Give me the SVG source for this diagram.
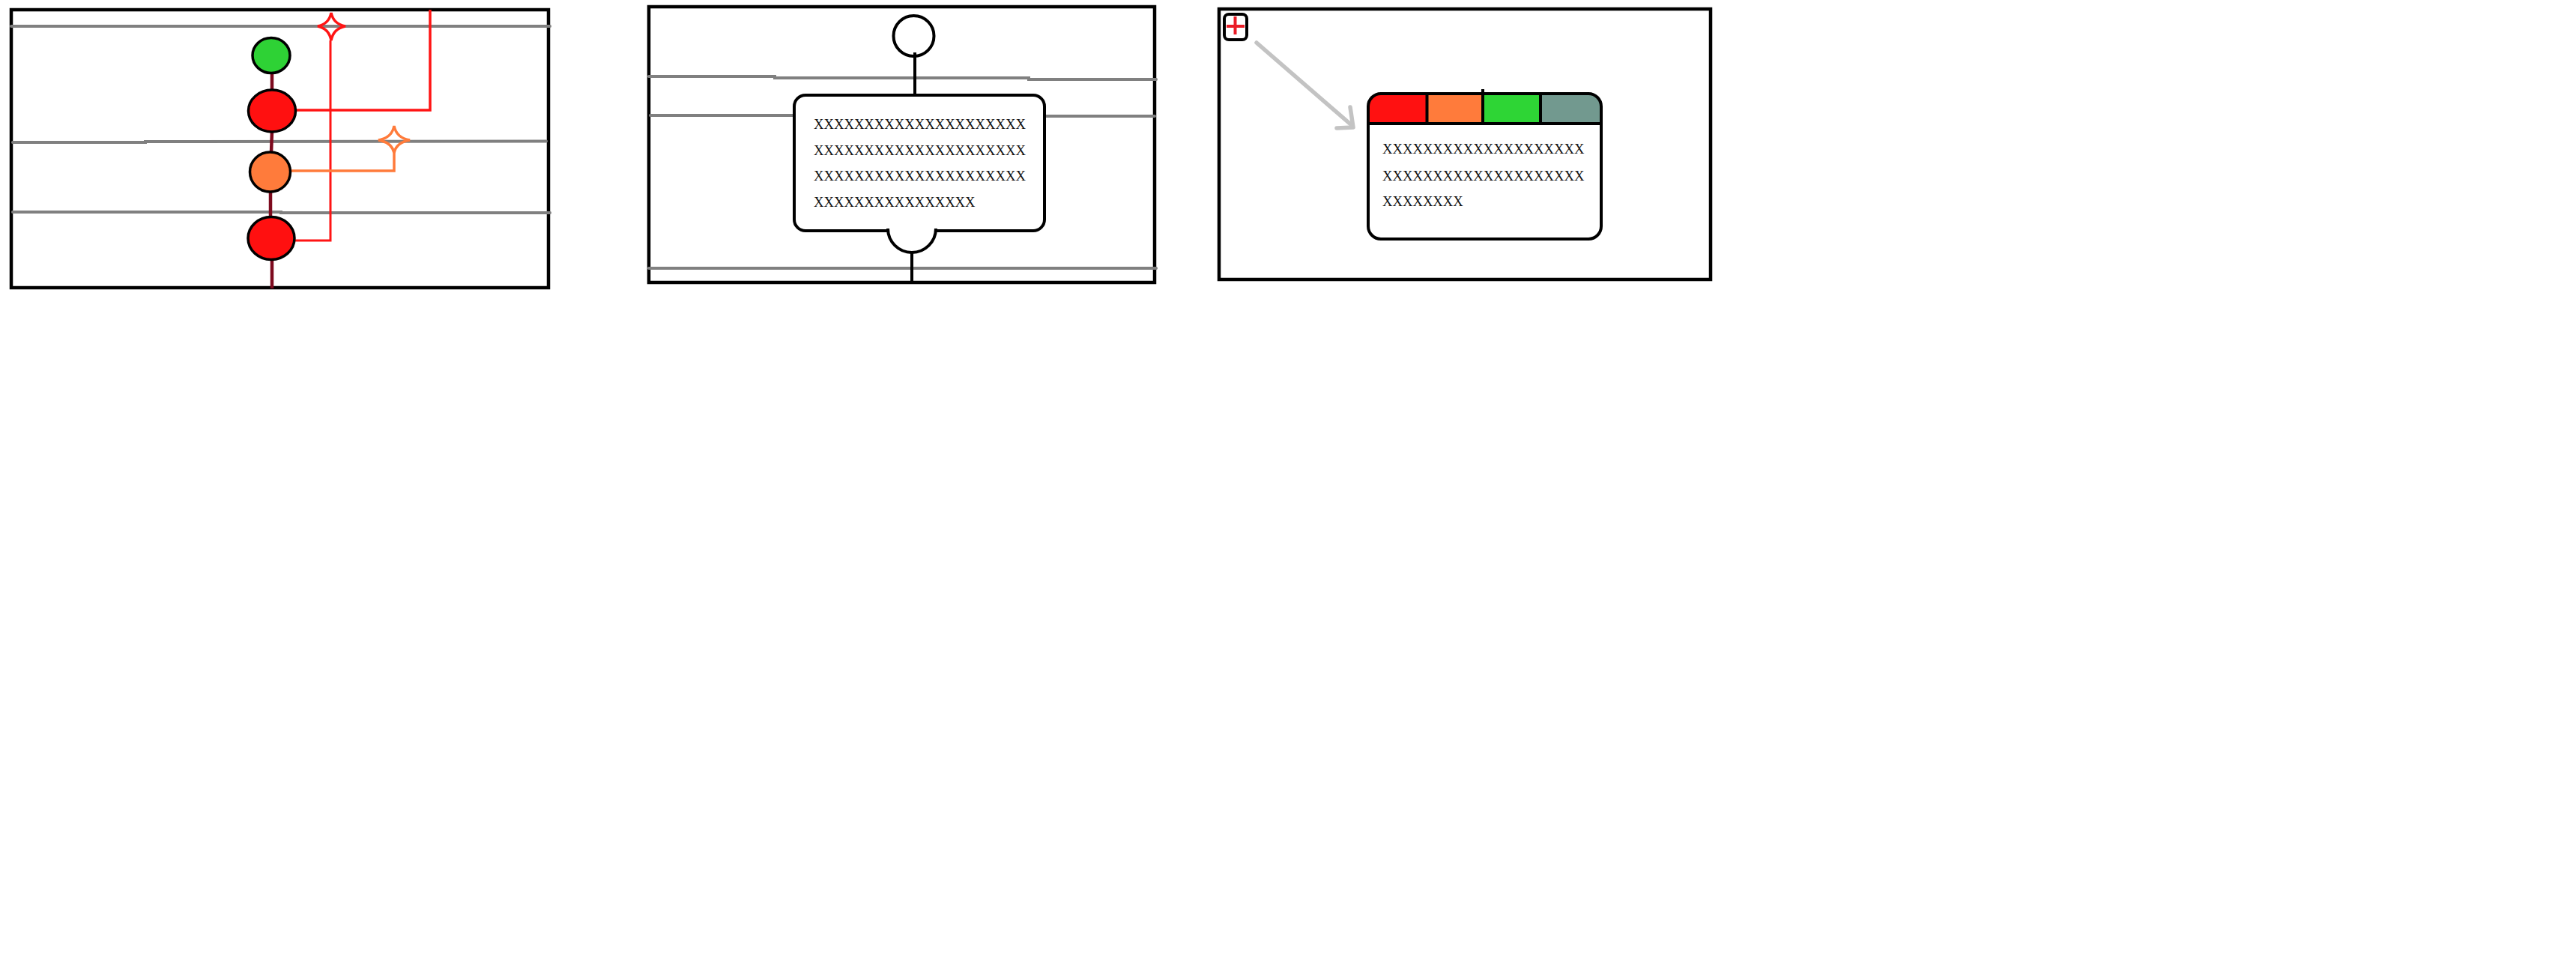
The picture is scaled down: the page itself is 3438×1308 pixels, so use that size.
<svg xmlns="http://www.w3.org/2000/svg" width="3438" height="1308" viewBox="0 0 3438 1308">
<style>
.frame{fill:none;stroke:#000;stroke-width:4.5}
.grid{fill:none;stroke:#808080;stroke-width:4;stroke-linecap:round}
.node{stroke:#000;stroke-width:3.5}
.stem{stroke:#7d0a1e;stroke-width:4.5;fill:none}
.red{stroke:#ff1414;fill:none}
.orange{stroke:#ff7b3b;fill:none}
.blk{stroke:#000;fill:none;stroke-width:4}
.txt{font-family:"Liberation Serif","Times New Roman",serif;font-size:18.67px;fill:#111}
</style>
<defs>
  <clipPath id="winclip"><rect x="1826" y="125" width="311" height="194" rx="17"/></clipPath>
</defs>
<rect width="3438" height="1308" fill="#fff"/>

<!-- Panel 1 -->
<g id="panel1">
  <rect class="frame" x="15" y="13" width="717" height="371"/>
  <g id="grid1">
    <polyline class="grid" points="15,35 734,35"/>
    <polyline class="grid" points="17,190 194,190 194,189 729,188.5"/>
    <polyline class="grid" points="17,283 375,283 375,284 734,284"/>
  </g>
</g>
<g id="connectors1">
  <line class="stem" x1="363" y1="96" x2="363" y2="122"/>
  <line class="stem" x1="363" y1="175" x2="362" y2="204"/>
  <line class="stem" x1="361" y1="255" x2="361" y2="291"/>
  <line class="stem" x1="363" y1="346" x2="363" y2="385"/>
  <polyline class="red" stroke-width="3.5" points="395,147 574,147 574,13"/>
  <polyline class="red" stroke-width="3" points="441,54 441,321 393,321"/>
  <polyline class="orange" stroke-width="3.5" points="388,228 526,228 526,200"/>
</g>
<g id="star-red">
  <path class="red" stroke-width="3.5" d="M442,17 Q445,32 461,35 Q445,38 442,54 Q439,38 424,35 Q439,32 442,17 Z"/>
</g>
<g id="star-orange">
  <path class="orange" stroke-width="3.5" d="M526,168 Q529,184 547,187 Q529,190 526,204 Q523,190 505,187 Q523,184 526,168 Z"/>
</g>
<g id="node-green"><ellipse class="node" cx="362" cy="74" rx="25" ry="23.5" fill="#2ed235"/></g>
<g id="node-red1"><ellipse class="node" cx="363" cy="148" rx="31.5" ry="28" fill="#ff1010"/></g>
<g id="node-orange"><ellipse class="node" cx="360.5" cy="229.5" rx="27" ry="26.5" fill="#ff7b3b"/></g>
<g id="node-red2"><ellipse class="node" cx="362" cy="318" rx="31" ry="28.5" fill="#ff1010"/></g>

<!-- Panel 2 -->
<g id="panel2">
  <rect class="frame" x="866" y="9" width="675" height="368"/>
  <g id="grid2">
    <polyline class="grid" points="866,102 1034,102 1034,104 1373,104 1373,106 1543,106"/>
    <polyline class="grid" points="868,154 1060,154"/>
    <polyline class="grid" points="1394,155 1541,155"/>
    <polyline class="grid" points="866,358 1543,358"/>
  </g>
</g>
<g id="connectors2">
  <line class="blk" x1="1221" y1="70" x2="1221" y2="128"/>
  <line class="blk" x1="1217" y1="338" x2="1217" y2="377"/>
</g>
<g id="start-circle"><circle class="blk" cx="1219.5" cy="48" r="27" fill="#fff"/></g>
<g id="activity-box">
  <rect class="blk" x="1060" y="127" width="334" height="181" rx="15" fill="#fff" stroke-width="4.5"/>
  <rect x="1186" y="304" width="63" height="7" fill="#fff"/>
  <path class="blk" d="M1185,305 A32,32 0 0 0 1249,305"/>
  <text class="txt" x="1086" y="172">XXXXXXXXXXXXXXXXXXXXX</text>
  <text class="txt" x="1086" y="206.5">XXXXXXXXXXXXXXXXXXXXX</text>
  <text class="txt" x="1086" y="241">XXXXXXXXXXXXXXXXXXXXX</text>
  <text class="txt" x="1086" y="276">XXXXXXXXXXXXXXXX</text>
</g>

<!-- Panel 3 -->
<g id="panel3">
  <rect class="frame" x="1627" y="12" width="656" height="361"/>
</g>
<g id="icon">
  <rect class="blk" x="1634" y="19" width="30" height="34" rx="6" fill="#fff"/>
  <line x1="1637" y1="35" x2="1661" y2="35" stroke="#ea1c26" stroke-width="4"/>
  <line x1="1648.5" y1="22" x2="1648.5" y2="46" stroke="#ea1c26" stroke-width="4"/>
</g>
<g id="connectors3">
  <line x1="1677" y1="57" x2="1805" y2="168" stroke="#c3c3c3" stroke-width="5.5" stroke-linecap="round"/>
  <polyline points="1802,143 1806,170 1784,171" fill="none" stroke="#c3c3c3" stroke-width="5.5" stroke-linecap="round" stroke-linejoin="round"/>
</g>
<g id="window">
  <rect x="1826" y="125" width="311" height="194" rx="17" fill="#fff"/>
  <g clip-path="url(#winclip)">
    <rect x="1820" y="120" width="84.5" height="45" fill="#ff1111"/>
    <rect x="1904.5" y="120" width="74.5" height="45" fill="#ff7b3b"/>
    <rect x="1979" y="120" width="77" height="45" fill="#2ed535"/>
    <rect x="2056" y="120" width="90" height="45" fill="#72998f"/>
  </g>
  <rect class="blk" x="1826" y="125" width="311" height="194" rx="17" stroke-width="5"/>
  <line class="blk" x1="1826" y1="165" x2="2137" y2="165" stroke-width="5"/>
  <line class="blk" x1="1904.5" y1="125" x2="1904.5" y2="165"/>
  <line class="blk" x1="1979" y1="119" x2="1979" y2="165"/>
  <line class="blk" x1="2056" y1="125" x2="2056" y2="165"/>
  <text class="txt" x="1845" y="205">XXXXXXXXXXXXXXXXXXXX</text>
  <text class="txt" x="1845" y="240.5">XXXXXXXXXXXXXXXXXXXX</text>
  <text class="txt" x="1845" y="275">XXXXXXXX</text>
</g>
</svg>
